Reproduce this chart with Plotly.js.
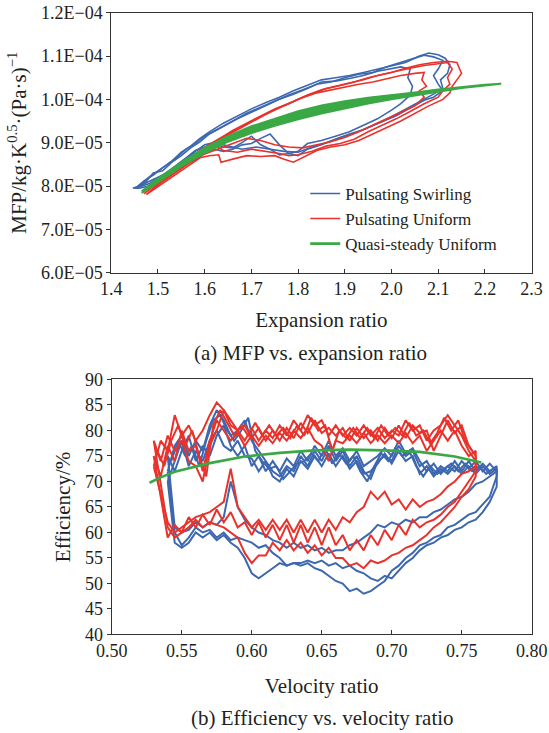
<!DOCTYPE html>
<html>
<head>
<meta charset="utf-8">
<script src="https://cdn.plot.ly/plotly-3.0.1.min.js"></script>
<style>html,body{margin:0;padding:0;background:#fff;}#chart{width:549px;height:733px;}</style>
</head>
<body>
<div id="chart"></div>
<script>
// ===== (a) MFP vs. expansion ratio  (MFP values in units of 1E-05) =====
const erSwirl1 = [1.446,1.455,1.47,1.49,1.51,1.53,1.55,1.57,1.59,1.61,1.64,1.67,1.70,1.73,1.76,1.79,1.82,1.85,1.88,1.91,1.94,1.97,2.00,2.03,2.06,2.08,2.10,2.115,2.125,2.12,2.105,2.11,2.09,2.06,2.03,2.00,1.97,1.94,1.91,1.88,1.85,1.82,1.80,1.78,1.76,1.74,1.72,1.70,1.68,1.66,1.64,1.62,1.60,1.58,1.56,1.54,1.52,1.50,1.48,1.46,1.446];
const mfpSwirl1 = [7.95,7.98,8.12,8.25,8.42,8.58,8.78,8.92,9.10,9.25,9.45,9.62,9.78,9.92,10.05,10.20,10.32,10.45,10.50,10.55,10.62,10.70,10.78,10.85,11.00,11.07,11.03,10.95,10.80,10.60,10.45,10.25,10.12,9.95,9.78,9.60,9.45,9.30,9.20,9.08,8.95,8.85,8.70,8.75,8.72,8.85,8.95,9.15,9.00,8.88,8.90,8.98,8.90,8.82,8.65,8.48,8.32,8.18,8.05,7.98,7.95];
const erSwirl2 = [1.45,1.47,1.49,1.51,1.53,1.55,1.57,1.59,1.61,1.64,1.67,1.70,1.73,1.76,1.79,1.82,1.85,1.88,1.91,1.94,1.97,2.00,2.02,2.04,2.035,2.045,2.04,2.02,2.00,1.97,1.94,1.91,1.88,1.85,1.82,1.80,1.78,1.76,1.74,1.72,1.70,1.68,1.66,1.64,1.62,1.60,1.58,1.56,1.54,1.52,1.50,1.48,1.46,1.45];
const mfpSwirl2 = [7.95,8.05,8.30,8.35,8.55,8.70,8.88,9.02,9.20,9.38,9.55,9.70,9.85,10.00,10.12,10.25,10.40,10.42,10.48,10.55,10.65,10.72,10.75,10.70,10.50,10.30,10.10,9.90,9.75,9.55,9.40,9.25,9.15,9.05,8.98,8.80,8.75,8.95,9.20,9.10,8.98,8.95,8.85,8.80,8.85,8.75,8.60,8.50,8.35,8.22,8.10,8.00,7.95,7.95];
const erSwirl3 = [1.46,1.48,1.50,1.52,1.54,1.56,1.58,1.60,1.63,1.66,1.69,1.72,1.75,1.78,1.81,1.84,1.87,1.90,1.93,1.96,1.99,2.02,2.05,2.07,2.09,2.11,2.10,2.09,2.10,2.11,2.09,2.07,2.04,2.01,1.98,1.95,1.92,1.89,1.86,1.83,1.80,1.77,1.74,1.71,1.68,1.65,1.62,1.60,1.58,1.56,1.54,1.52,1.50,1.48,1.46];
const mfpSwirl3 = [8.00,8.20,8.35,8.50,8.65,8.85,8.98,9.15,9.32,9.50,9.68,9.82,9.95,10.10,10.22,10.35,10.40,10.50,10.58,10.62,10.75,10.85,10.95,11.02,10.98,10.90,10.70,10.55,10.35,10.20,10.05,9.98,9.80,9.62,9.48,9.35,9.22,9.12,9.00,8.90,8.78,8.80,8.85,8.90,8.85,8.92,9.00,8.95,8.80,8.60,8.45,8.30,8.20,8.10,8.00];

const erUni1 = [1.475,1.49,1.51,1.53,1.55,1.57,1.59,1.61,1.64,1.67,1.70,1.73,1.76,1.79,1.82,1.85,1.88,1.91,1.94,1.97,2.00,2.03,2.06,2.09,2.12,2.14,2.145,2.15,2.14,2.13,2.125,2.11,2.08,2.05,2.02,1.99,1.96,1.93,1.90,1.87,1.84,1.81,1.79,1.77,1.75,1.72,1.69,1.66,1.635,1.63,1.61,1.59,1.57,1.55,1.53,1.51,1.49,1.475];
const mfpUni1 = [7.80,7.95,8.12,8.28,8.45,8.60,8.78,8.92,9.12,9.30,9.48,9.65,9.82,9.95,10.10,10.22,10.30,10.38,10.45,10.55,10.62,10.72,10.80,10.85,10.88,10.85,10.70,10.60,10.45,10.30,10.15,10.00,9.85,9.68,9.50,9.35,9.20,9.05,8.95,8.90,8.82,8.65,8.55,8.62,8.70,8.68,8.70,8.62,8.55,8.72,8.70,8.65,8.50,8.35,8.20,8.05,7.92,7.80];
const erUni2 = [1.48,1.50,1.52,1.54,1.56,1.58,1.60,1.63,1.66,1.69,1.72,1.75,1.78,1.81,1.84,1.87,1.90,1.93,1.96,1.99,2.02,2.05,2.07,2.065,2.075,2.06,2.07,2.05,2.02,1.99,1.96,1.93,1.90,1.87,1.84,1.81,1.78,1.75,1.72,1.69,1.66,1.63,1.61,1.59,1.57,1.55,1.53,1.51,1.49,1.48];
const mfpUni2 = [7.85,8.05,8.20,8.38,8.55,8.72,8.88,9.08,9.28,9.45,9.62,9.78,9.90,10.05,10.15,10.22,10.28,10.35,10.40,10.48,10.55,10.60,10.62,10.45,10.30,10.20,10.05,9.85,9.70,9.55,9.40,9.25,9.12,9.02,8.95,8.88,8.90,8.95,9.05,9.10,8.98,8.85,8.78,8.70,8.55,8.40,8.25,8.10,7.95,7.85];
const erUni3 = [1.47,1.49,1.51,1.53,1.55,1.57,1.59,1.62,1.65,1.68,1.71,1.74,1.77,1.80,1.83,1.86,1.89,1.92,1.95,1.98,2.01,2.04,2.07,2.10,2.12,2.13,2.12,2.125,2.11,2.10,2.07,2.04,2.01,1.98,1.95,1.92,1.89,1.86,1.83,1.80,1.78,1.76,1.73,1.70,1.67,1.64,1.62,1.60,1.58,1.56,1.54,1.52,1.50,1.48,1.47];
const mfpUni3 = [7.82,8.00,8.15,8.30,8.50,8.65,8.82,9.02,9.20,9.38,9.55,9.70,9.85,10.00,10.12,10.25,10.32,10.40,10.50,10.58,10.65,10.72,10.78,10.82,10.85,10.70,10.50,10.35,10.20,10.05,9.90,9.72,9.55,9.40,9.25,9.08,8.98,8.92,8.80,8.72,8.70,8.75,8.80,8.85,8.78,8.82,8.95,8.85,8.68,8.55,8.40,8.25,8.10,7.92,7.82];

const erQuasi = [1.465,1.50,1.55,1.60,1.65,1.70,1.75,1.80,1.85,1.90,1.95,2.00,2.05,2.10,2.15,2.20,2.235,2.20,2.15,2.10,2.05,2.00,1.95,1.90,1.85,1.80,1.75,1.70,1.65,1.60,1.55,1.50,1.465];
const mfpQuasi = [7.84,8.08,8.45,8.76,9.02,9.22,9.39,9.54,9.67,9.79,9.90,10.00,10.09,10.17,10.26,10.32,10.36,10.34,10.29,10.23,10.16,10.10,10.04,9.96,9.86,9.73,9.56,9.38,9.15,8.88,8.55,8.18,7.88];

const mfpTickVals = [6,7,8,9,10,11,12];
const mfpTickText = ['6.0E\u221205','7.0E\u221205','8.0E\u221205','9.0E\u221205','1.0E\u221204','1.1E\u221204','1.2E\u221204'];

// ===== (b) Efficiency vs. velocity ratio =====
const vrUpB = [0.540,0.545,0.550,0.555,0.560,0.565,0.570,0.575,0.580,0.585,0.590,0.595,0.600,0.605,0.610,0.615,0.620,0.625,0.630,0.635,0.640,0.645,0.650,0.655,0.660,0.665,0.670,0.675,0.680,0.685,0.690,0.695,0.700,0.705,0.710,0.715,0.720,0.725,0.730,0.735,0.740,0.745,0.750,0.755,0.760,0.765,0.770,0.775];
const vrLowB = [0.775,0.770,0.765,0.760,0.755,0.750,0.745,0.740,0.735,0.730,0.725,0.720,0.715,0.710,0.705,0.700,0.695,0.690,0.685,0.680,0.675,0.670,0.665,0.660,0.655,0.650,0.645,0.640,0.635,0.630,0.625,0.620,0.615,0.610,0.605,0.600,0.595,0.590,0.585,0.580,0.575,0.570,0.565,0.560,0.555,0.550,0.545];
const vrMidB = [0.5425,0.5475,0.5525,0.5575,0.5625,0.5675,0.5725,0.5775,0.5825,0.5875,0.5925,0.5975,0.6025,0.6075,0.6125,0.6175,0.6225,0.6275,0.6325,0.6375,0.6425,0.6475,0.6525,0.6575,0.6625,0.6675,0.6725,0.6775,0.6825,0.6875,0.6925,0.6975,0.7025,0.7075,0.7125,0.7175,0.7225,0.7275,0.7325,0.7375,0.7425,0.7475,0.7525,0.7575,0.7625,0.7675,0.7725];
const effSwirlUp1 = [72,77,79,75,78,76,81,84,82,79,80,82,78,76,74,72,71,73,72,75,73,76,74,77,74,76,73,75,72,70.5,74,75,74,77,75,76,73,74,71.5,73,72,74,72,74,72,73.5,72,73];
const effSwirlLow1 = [71,67,65.5,64,63.5,62.5,61.5,61,59.5,59,58,57.5,56,55,53.5,52.5,50.5,49.5,48.5,48,49,48.5,50,50.5,51.5,52.5,53,54,53.5,54,53.5,55,56,57.5,57,58,58.5,59,58.5,60,59,60.5,60,61,59,57.5,60];
const effSwirlUp2 = [70,74,78,73,76,74,78,80,77,76,78,75,74.5,72,74,71,70,72.5,71,74,72.5,75,73,75.5,73,75,72.5,74,71.5,72,73.5,75.5,73.5,76,74,75,71.5,73,71,72.5,71.5,73,71.5,73,71.5,73,71.5,72.5];
const effSwirlLow2 = [69,66,64,62.5,62,61,60.5,59.5,59,58,57.5,56.5,55,54,52.5,51,51.5,50.5,51,52,52.5,53.5,53,54,53.5,54.5,54,54.5,54,54,53.5,54,53,52,51,52,55,57,58,59.5,58.5,60,59,60,58,57,58];
const effSwirlUp3 = [75,72,76,79,74,77,75,79,81,77,75,77,73,75,72,74,72,74.5,73,76,74,77,75,78,75,76.5,74,76,73,74,75,76.5,75,78,75.5,76.5,74,72,73.5,71.5,73,72,74,72.5,74,72,73.5,72];
const effSwirlLow3 = [72,71,70,69.5,68,67,66.5,65.5,64.5,64,63,63,62,62.5,61.5,62,61,61.5,60,59,58,57.5,56.5,56.5,56,57,56.5,57.5,57,58,57,58,58.5,59.5,60,61,62.5,65,70,63,61.5,62,61,62,60.5,60,61];
const effSwirlMid = [74,78,75,77,73,78,82,83,80,78,80,82.5,76,74,72.5,73,70.5,72,73.5,74,75.5,74,76.5,73.5,75.5,73.5,75,72,70,73,75.5,74,76.5,75,76,73,71,73,71.5,72.5,73.5,72,73.5,72,73,71.5,72.5];

const vrUpR = [0.530,0.535,0.540,0.545,0.550,0.555,0.560,0.565,0.570,0.575,0.580,0.585,0.590,0.595,0.600,0.605,0.610,0.615,0.620,0.625,0.630,0.635,0.640,0.645,0.650,0.655,0.660,0.665,0.670,0.675,0.680,0.685,0.690,0.695,0.700,0.705,0.710,0.715,0.720,0.725,0.730,0.735,0.740,0.745,0.750,0.755,0.760];
const vrLowR = [0.760,0.755,0.750,0.745,0.740,0.735,0.730,0.725,0.720,0.715,0.710,0.705,0.700,0.695,0.690,0.685,0.680,0.675,0.670,0.665,0.660,0.655,0.650,0.645,0.640,0.635,0.630,0.625,0.620,0.615,0.610,0.605,0.600,0.595,0.590,0.585,0.580,0.575,0.570,0.565,0.560,0.555,0.550,0.545,0.540];
const vrMidR = [0.5325,0.5375,0.5425,0.5475,0.5525,0.5575,0.5625,0.5675,0.5725,0.5775,0.5825,0.5875,0.5925,0.5975,0.6025,0.6075,0.6125,0.6175,0.6225,0.6275,0.6325,0.6375,0.6425,0.6475,0.6525,0.6575,0.6625,0.6675,0.6725,0.6775,0.6825,0.6875,0.6925,0.6975,0.7025,0.7075,0.7125,0.7175,0.7225,0.7275,0.7325,0.7375,0.7425,0.7475,0.7525,0.7575];
const effUniUp1 = [73,78,76,83,79,81,78,80,83,85.5,84,81,80,78,80.5,78,80,78.5,81,79,82,80,83,81,82,79,81,79,80.5,79,81,79,80.5,78.5,80,79,82,80,81,78,80,81,83,81,79,76,74];
const effUniLow1 = [73,72,71.5,70,69,67.5,66.5,66,65,66.5,64.5,66.5,65.5,68,66.5,68,65,64,62,63,60.5,62.5,60,62.5,60,62.5,60,62.5,60.5,62.5,60.5,62.5,61,63,65,72.5,66,65,64,63.5,63,62,61,60,62];
const effUniUp2 = [75,71,77,74,80,76,77,72,78,82,80,78,79.5,77,79,77,79,77.5,79.5,78,80,78.5,80.5,78,77,74,78,77.5,79,77.5,79.5,77.5,79,77.5,79,77.5,79.5,77.5,79,76,78,80,78,80,77,75,76];
const effUniLow2 = [72,70,68,66,65,63.5,62.5,62,61,62.5,59.5,61.5,58.5,60.5,57.5,59.5,56.5,58.5,56.5,59.5,57.5,61,57.5,61,58,61.5,58,61.5,58.5,61.5,59,62,59.5,62,61,64,62,64.5,61.5,63.5,61,63,60,61.5,59];
const effUniUp3 = [78,74,79,76,78,74,73,70,77,80,84,82,80,81,78.5,80.5,78,80,78,80.5,78.5,81.5,79.5,82,79.5,80.5,79,80.5,78,80.5,78.5,80,78,80.5,78.5,81,78.5,81,79.5,80,76,79,82,79.5,81,77,75];
const effUniLow3 = [71,68.5,67,65,63.5,62,61,59.5,58.5,57.5,57,56,55.5,54.5,54,54.5,53,54,53.5,55,55,57,55.5,57.5,56,58,56.5,58.5,56.5,58,55.5,55.5,54,56,59,60,61,61.5,62,61,62.5,61,60,59,61];
const effUniMid = [76,73,78,81,77,80,75,71,81,84,81.5,79,81,79,81.5,79,81,79,80.5,78.5,81,79,82.5,80,81,76,80,78.5,80.5,78.5,80.5,78.5,81,79,80.5,79,81.5,79,80,77.5,79.5,82.5,80,82,78,76];

const vrQuasi = [0.527,0.535,0.545,0.555,0.570,0.595,0.620,0.645,0.670,0.695,0.720,0.745,0.764];
const effQuasi = [69.75,70.8,71.9,72.6,73.6,74.9,75.6,76.1,76.25,76.1,75.8,74.9,73.7];

// ===== styling =====
const BLUE = '#3d68b0', RED = '#e8322b', GREEN = '#3aa845';
const FONT = 'Liberation Serif, Times New Roman, Times, serif';
const TXT = '#231f20';

function loop(xUp, yUp, xLow, yLow) {
  return {x: xUp.concat(xLow, [xUp[0]]), y: yUp.concat(yLow, [yUp[0]])};
}
function tr(x, y, color, xa, ya, name, show, w, fill, rank) {
  const t = {x, y, type: 'scatter', mode: 'lines', xaxis: xa, yaxis: ya,
    name: name, legendgroup: name, showlegend: show, legendrank: rank || 1000,
    line: {color: color, width: w}, hoverinfo: 'skip'};
  if (fill) { t.fill = 'toself'; t.fillcolor = color; }
  return t;
}

const data = [];
// (a)
data.push(tr(erSwirl1, mfpSwirl1, BLUE, 'x', 'y', 'Pulsating Swirling', true, 1.6, false, 1));
data.push(tr(erSwirl2, mfpSwirl2, BLUE, 'x', 'y', 'Pulsating Swirling', false, 1.6));
data.push(tr(erSwirl3, mfpSwirl3, BLUE, 'x', 'y', 'Pulsating Swirling', false, 1.6));
data.push(tr(erUni1, mfpUni1, RED, 'x', 'y', 'Pulsating Uniform', true, 1.6, false, 2));
data.push(tr(erUni2, mfpUni2, RED, 'x', 'y', 'Pulsating Uniform', false, 1.6));
data.push(tr(erUni3, mfpUni3, RED, 'x', 'y', 'Pulsating Uniform', false, 1.6));
data.push(tr(erQuasi, mfpQuasi, GREEN, 'x', 'y', 'Quasi-steady Uniform', false, 1.8, true));
// (b)
[[effSwirlUp1, effSwirlLow1], [effSwirlUp2, effSwirlLow2], [effSwirlUp3, effSwirlLow3]].forEach(p => {
  const l = loop(vrUpB, p[0], vrLowB, p[1]);
  data.push(tr(l.x, l.y, BLUE, 'x2', 'y2', 'Pulsating Swirling', false, 2));
});
data.push(tr(vrMidB, effSwirlMid, BLUE, 'x2', 'y2', 'Pulsating Swirling', false, 2));
[[effUniUp1, effUniLow1], [effUniUp2, effUniLow2], [effUniUp3, effUniLow3]].forEach(p => {
  const l = loop(vrUpR, p[0], vrLowR, p[1]);
  data.push(tr(l.x, l.y, RED, 'x2', 'y2', 'Pulsating Uniform', false, 2));
});
data.push(tr(vrMidR, effUniMid, RED, 'x2', 'y2', 'Pulsating Uniform', false, 2));
data.push(tr(vrQuasi, effQuasi, GREEN, 'x2', 'y2', 'Quasi-steady Uniform', true, 2.6, false, 3));

const axisBase = {
  showline: true, linecolor: '#333', linewidth: 1, mirror: true,
  showgrid: false, zeroline: false, ticklen: 4, tickwidth: 1, tickcolor: '#333',
  tickfont: {family: FONT, size: 18, color: TXT}
};

const layout = {
  width: 549, height: 733,
  margin: {l: 0, r: 0, t: 0, b: 0},
  paper_bgcolor: '#fff', plot_bgcolor: '#fff',
  font: {family: FONT, color: TXT},
  showlegend: true,
  legend: {x: 0.556, y: 0.760, xanchor: 'left', yanchor: 'top',
    font: {family: FONT, size: 17, color: TXT}, bgcolor: 'rgba(0,0,0,0)',
    tracegroupgap: 0, itemwidth: 30},
  xaxis: Object.assign({}, axisBase, {
    domain: [0.2027, 0.9683], anchor: 'y', range: [1.4, 2.3], dtick: 0.1, tick0: 1.4,
    tickformat: '.1f', ticks: 'inside',
    title: {text: 'Expansion ratio', font: {family: FONT, size: 21, color: TXT}, standoff: 14}
  }),
  yaxis: Object.assign({}, axisBase, {
    domain: [0.6280, 0.9827], anchor: 'x', range: [6, 12],
    tickmode: 'array', tickvals: mfpTickVals, ticktext: mfpTickText, ticks: 'outside',
    title: {text: 'MFP/kg\u00b7K<sup>0.5</sup>\u00b7(Pa\u00b7s)<sup>\u22121</sup>', font: {family: FONT, size: 21, color: TXT}, standoff: 8}
  }),
  xaxis2: Object.assign({}, axisBase, {
    domain: [0.2035, 0.9685], anchor: 'y2', range: [0.5, 0.8], dtick: 0.05, tick0: 0.5,
    tickformat: '.2f', ticks: 'inside',
    title: {text: 'Velocity ratio', font: {family: FONT, size: 21, color: TXT}, standoff: 18}
  }),
  yaxis2: Object.assign({}, axisBase, {
    domain: [0.1344, 0.4823], anchor: 'x2', range: [40, 90], dtick: 5, tick0: 40,
    ticks: 'outside',
    title: {text: 'Efficiency/%', font: {family: FONT, size: 21, color: TXT}, standoff: 8}
  }),
  annotations: [
    {text: '(a) MFP vs. expansion ratio', xref: 'paper', yref: 'paper', x: 0.5647, y: 0.5188,
      xanchor: 'center', yanchor: 'middle', showarrow: false, font: {family: FONT, size: 21, color: TXT}},
    {text: '(b) Efficiency vs. velocity ratio', xref: 'paper', yref: 'paper', x: 0.5883, y: 0.0209,
      xanchor: 'center', yanchor: 'middle', showarrow: false, font: {family: FONT, size: 21, color: TXT}}
  ]
};

Plotly.newPlot('chart', data, layout, {staticPlot: true, displayModeBar: false});
</script>
</body>
</html>
